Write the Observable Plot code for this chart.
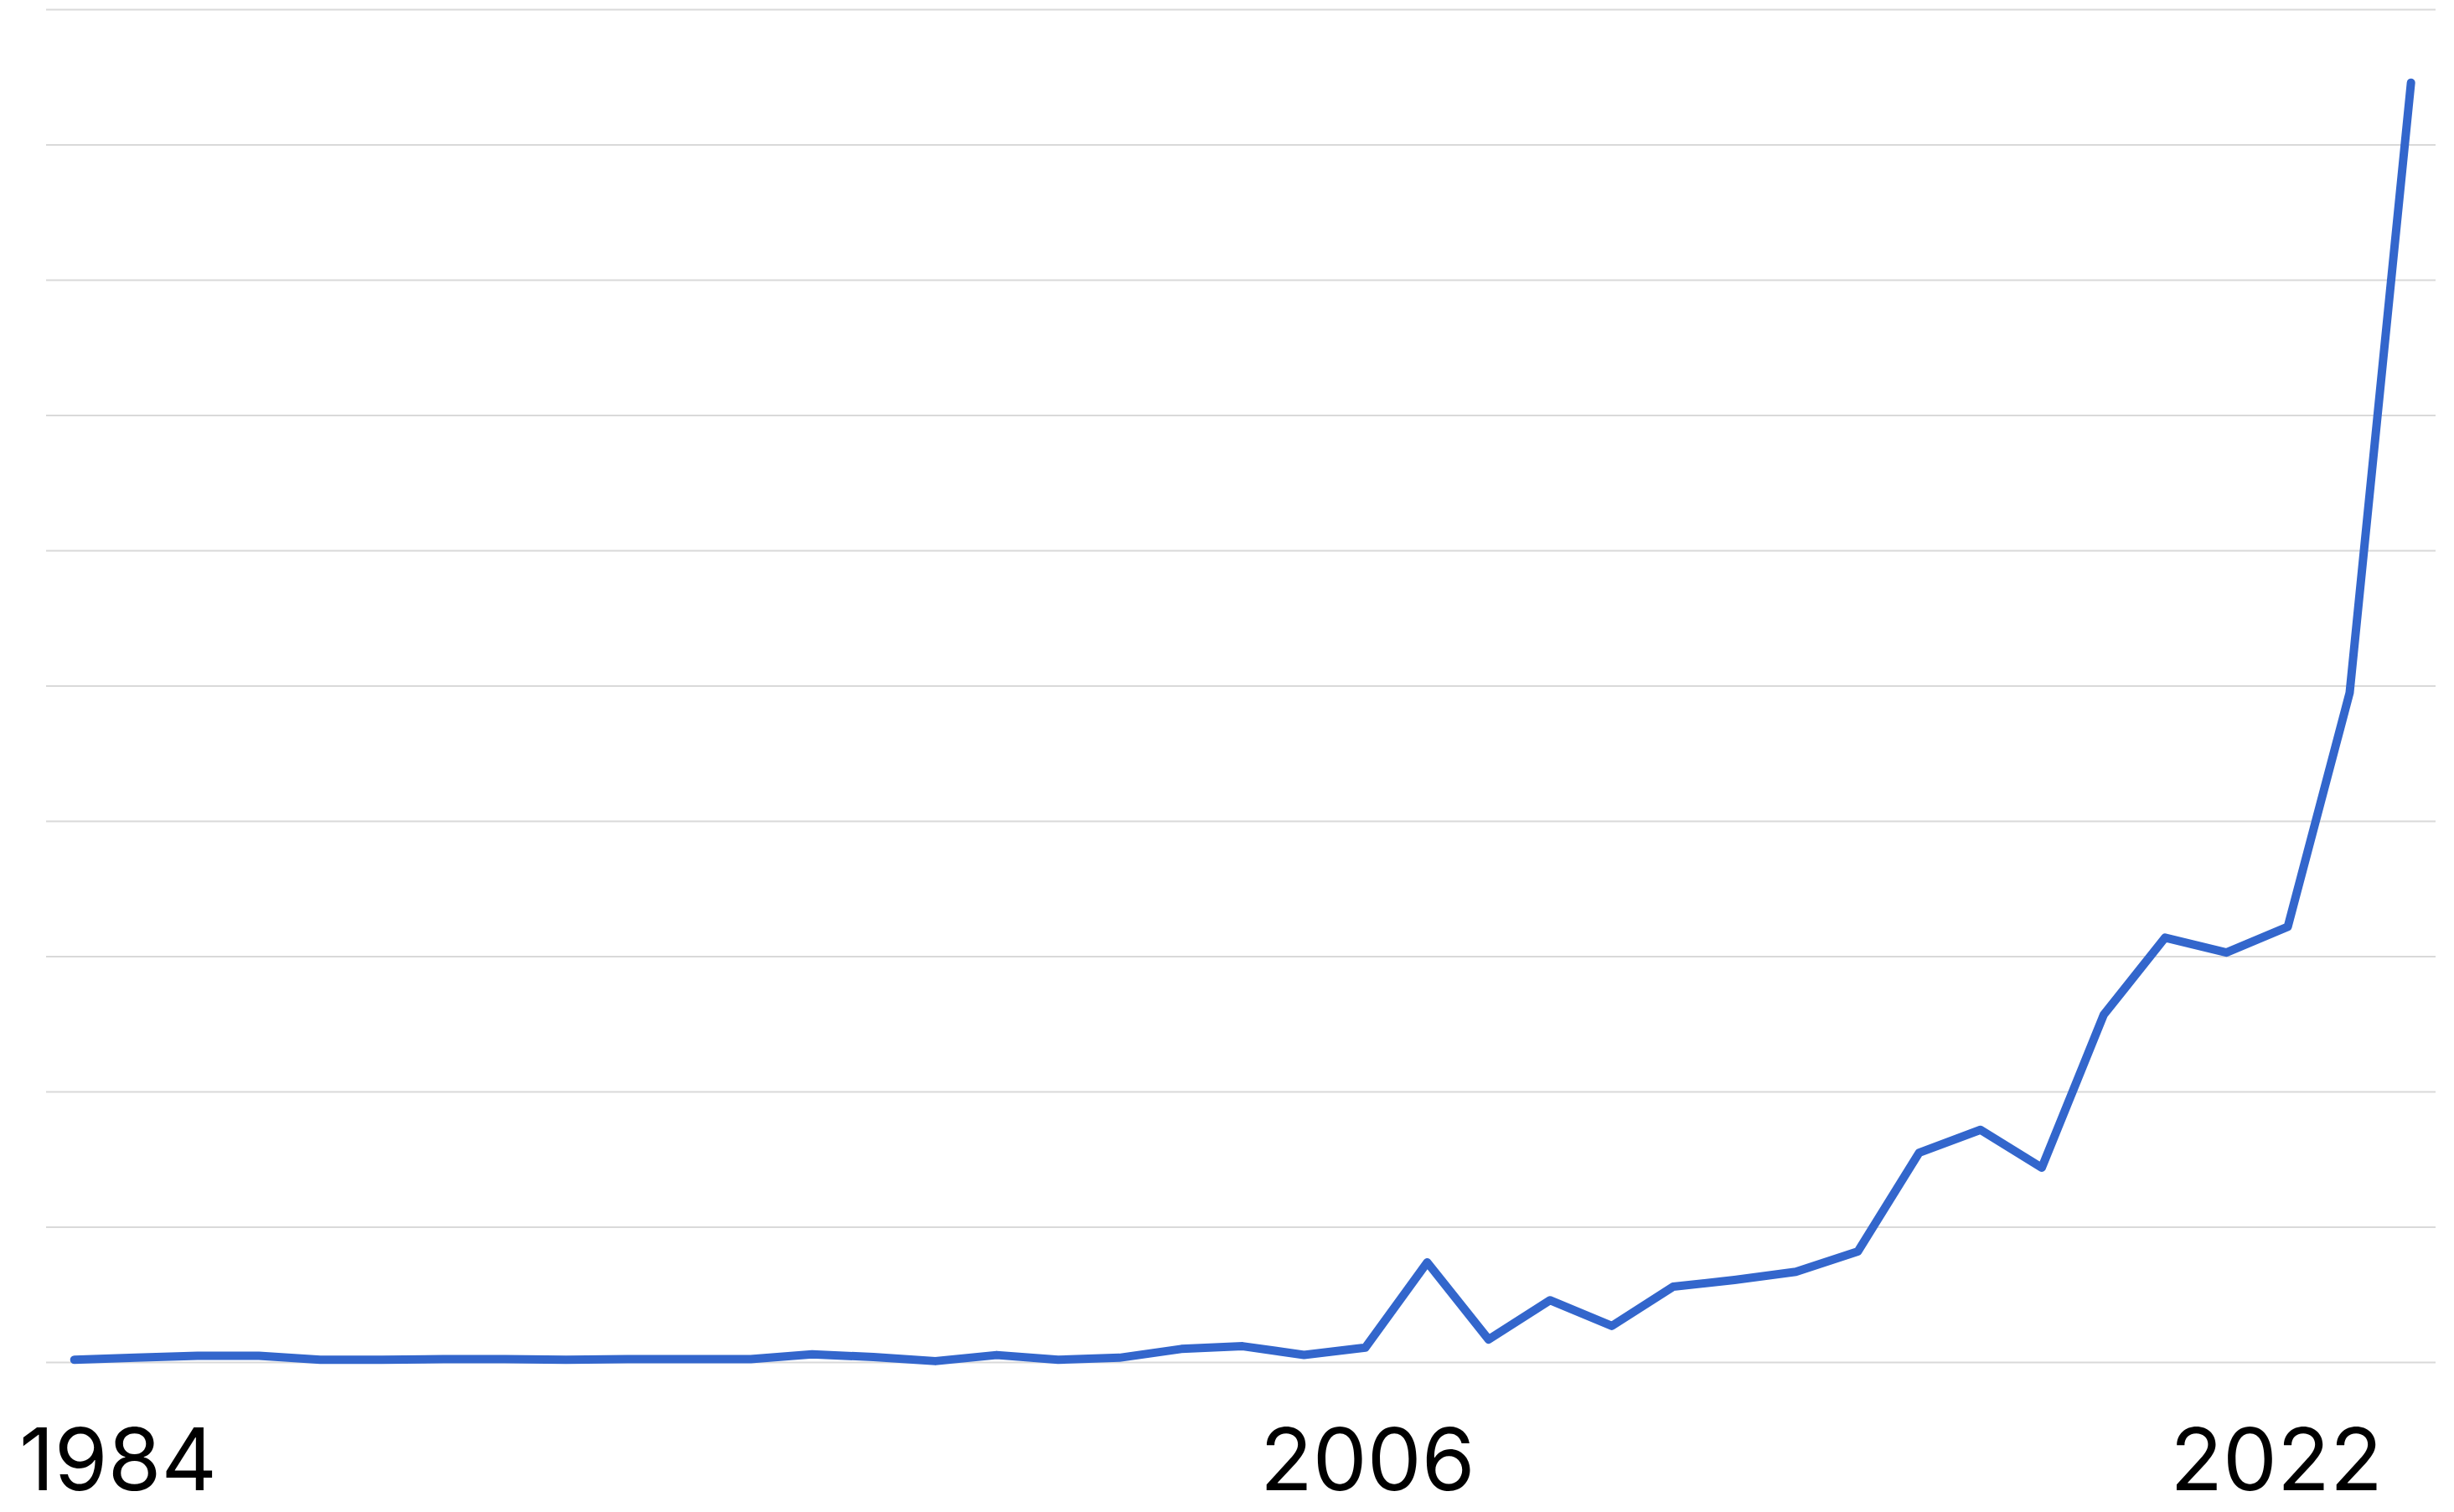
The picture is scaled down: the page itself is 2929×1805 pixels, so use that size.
<!DOCTYPE html>
<html>
<head>
<meta charset="utf-8">
<script src="https://cdn.jsdelivr.net/npm/d3@7"></script>
<script src="https://cdn.jsdelivr.net/npm/@observablehq/plot@0.6"></script>
<style>
  html, body { margin: 0; padding: 0; background: #fff; }
  #chart svg { display: block; }
  #chart svg text { font-variant-numeric: proportional-nums; font-feature-settings: "pnum" 1, "tnum" 0; }
</style>
</head>
<body>
<div id="chart"></div>
<script>
const years = [1983.23,1984.31,1985.40,1986.48,1987.56,1988.64,1989.73,1990.81,1991.89,1992.97,
  1994.06,1995.14,1996.22,1997.30,1998.39,1999.47,2000.55,2001.63,2002.72,2003.80,
  2004.88,2005.96,2007.05,2008.13,2009.21,2010.30,2011.38,2012.46,2013.54,2014.63,
  2015.71,2016.79,2017.87,2018.96,2020.04,2021.12,2022.20,2023.29,2024.37];
// values (gridline = 10 units)
const values = [0.2,0.35,0.5,0.5,0.2,0.2,0.25,0.25,0.2,0.25,
  0.25,0.25,0.6,0.4,0.1,0.55,0.2,0.35,1.0,1.2,
  0.56,1.1,7.4,1.7,4.6,2.7,5.6,6.1,6.7,8.2,
  15.5,17.2,14.4,25.7,31.4,30.3,32.2,49.5,94.6];
const xTicks = [1984, 2006, 2022];
const yGrid = [0,10,20,30,40,50,60,70,80,90,100];

const data = years.map((year, i) => ({year, value: values[i]}));

const chart = Plot.plot({
  width: 2929,
  height: 1805,
  marginTop: 11,
  marginBottom: 179,
  marginLeft: 55,
  marginRight: 22,
  x: {domain: [1982.74, 2024.81], axis: null, label: null},
  y: {domain: [0, 100], axis: null, label: null},
  style: {fontFamily: "Inter, Roboto, sans-serif", fontSize: "103px", color: "#000", background: "#fff"},
  marks: [
    Plot.gridY(yGrid, {stroke: "#d9d9d9", strokeOpacity: 1, strokeWidth: 2.2}),
    Plot.axisX(xTicks, {label: null, tickSize: 0, tickPadding: 79, fontSize: 103, fill: "#000", tickFormat: d => String(d)}),
    Plot.line(data, {x: "year", y: "value", stroke: "#3366cc", strokeWidth: 10, strokeLinejoin: "round", strokeLinecap: "round"})
  ]
});
document.getElementById("chart").appendChild(chart);
</script>
</body>
</html>
